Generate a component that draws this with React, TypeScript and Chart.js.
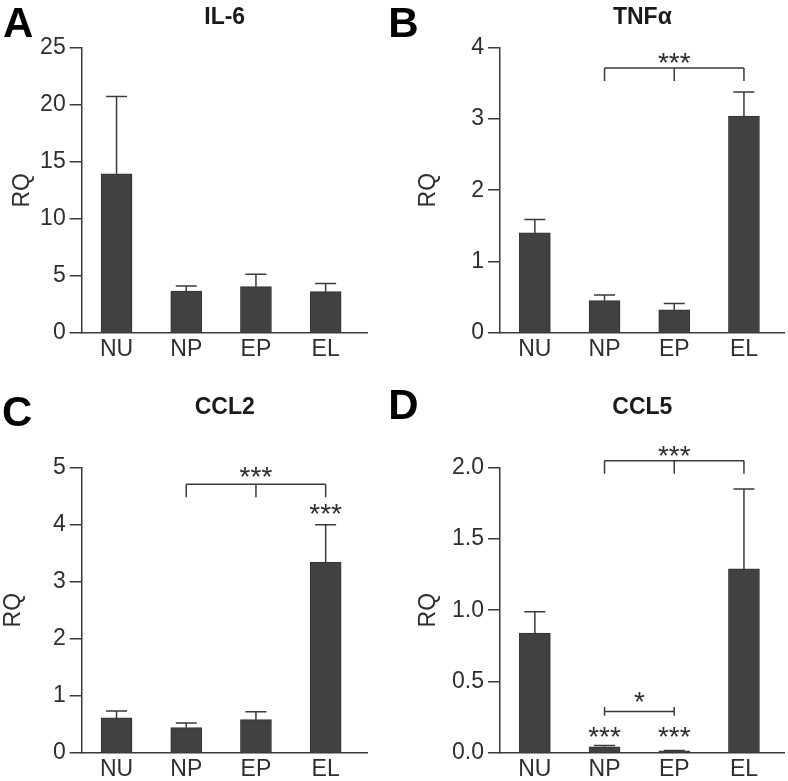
import React, { useEffect, useRef } from "react";
import { Chart, registerables } from "chart.js";

Chart.register(...registerables);

// ---------- data ----------
const CATEGORIES = ["NU", "NP", "EP", "EL"];

const IL6_MEANS = [13.95, 3.68, 4.06, 3.62];
const IL6_ERR_TOPS = [20.73, 4.12, 5.15, 4.33];
const IL6_TICKS = [0, 5, 10, 15, 20, 25];
const IL6_TICK_LABELS = ["0", "5", "10", "15", "20", "25"];

const TNF_MEANS = [1.4, 0.45, 0.32, 3.04];
const TNF_ERR_TOPS = [1.59, 0.53, 0.41, 3.38];
const TNF_TICKS = [0, 1, 2, 3, 4];
const TNF_TICK_LABELS = ["0", "1", "2", "3", "4"];

const CCL2_MEANS = [0.61, 0.44, 0.58, 3.34];
const CCL2_ERR_TOPS = [0.73, 0.52, 0.72, 4.0];
const CCL2_TICKS = [0, 1, 2, 3, 4, 5];
const CCL2_TICK_LABELS = ["0", "1", "2", "3", "4", "5"];

const CCL5_MEANS = [0.84, 0.042, 0.014, 1.29];
const CCL5_ERR_TOPS = [0.99, 0.05, 0.016, 1.85];
const CCL5_TICKS = [0, 0.5, 1, 1.5, 2];
const CCL5_TICK_LABELS = ["0.0", "0.5", "1.0", "1.5", "2.0"];

// significance brackets (category indices, RQ level of bar, label, label level)
const TNF_BRACKETS = [{ from: 1, to: 3, mid: 2, level: 3.715, label: "***", labelLevel: 3.86, kind: "group" }];
const CCL2_BRACKETS = [{ from: 1, to: 3, mid: 2, level: 4.709, label: "***", labelLevel: 4.92, kind: "group" }];
const CCL5_BRACKETS = [
  { from: 1, to: 3, mid: 2, level: 2.049, label: "***", labelLevel: 2.117, kind: "group" },
  { from: 1, to: 2, mid: -1, level: 0.29, label: "*", labelLevel: 0.393, kind: "pair" },
];
const CCL2_STARS = [{ index: 3, level: 4.27, label: "***" }];
const CCL5_STARS = [
  { index: 1, level: 0.147, label: "***" },
  { index: 2, level: 0.147, label: "***" },
];

const PANELS = [
  { letter: "A", title: "IL-6", means: IL6_MEANS, errTops: IL6_ERR_TOPS, ticks: IL6_TICKS, tickLabels: IL6_TICK_LABELS, brackets: [], stars: [] },
  { letter: "B", title: "TNFα", means: TNF_MEANS, errTops: TNF_ERR_TOPS, ticks: TNF_TICKS, tickLabels: TNF_TICK_LABELS, brackets: TNF_BRACKETS, stars: [] },
  { letter: "C", title: "CCL2", means: CCL2_MEANS, errTops: CCL2_ERR_TOPS, ticks: CCL2_TICKS, tickLabels: CCL2_TICK_LABELS, brackets: CCL2_BRACKETS, stars: CCL2_STARS },
  { letter: "D", title: "CCL5", means: CCL5_MEANS, errTops: CCL5_ERR_TOPS, ticks: CCL5_TICKS, tickLabels: CCL5_TICK_LABELS, brackets: CCL5_BRACKETS, stars: CCL5_STARS },
];

// ---------- layout & style (page coordinates) ----------
const LAYOUTS = [
  { canvas: { x: 0, y: 0, w: 388, h: 390 }, area: { l: 81.7, t: 47.7, r: 367.7, b: 333 }, rqX: 22.5, letterX: 3, letterBase: 37, titleBase: 24 },
  { canvas: { x: 388, y: 0, w: 400, h: 390 }, area: { l: 500, t: 47.7, r: 784.7, b: 332.7 }, rqX: 429, letterX: 388.3, letterBase: 37, titleBase: 24 },
  { canvas: { x: 0, y: 390, w: 388, h: 391 }, area: { l: 81.7, t: 467.7, r: 367.7, b: 752.7 }, rqX: 13.3, letterX: 2, letterBase: 426.3, titleBase: 413.6 },
  { canvas: { x: 388, y: 390, w: 400, h: 391 }, area: { l: 500, t: 467.7, r: 784.7, b: 752.7 }, rqX: 429, letterX: 388.3, letterBase: 418.5, titleBase: 413.6 },
];

const FONT = "'Liberation Sans', Arial, Helvetica, sans-serif";
const TEXT = "#2e2e2e";
const AXIS = "#3a3a3a";
const BAR_FILL = "#414141";
const BAR_EDGE = "#333333";
const CAT_SPACING = 69.7;
const BAR_W = 31;
const CAP_W = 21;
const DROP = 13;
const PAIR_TICK = 4.3;
const TICK_FONT = 23;
const STAR_FONT = 28;
const LETTER_FONT = 42;
const TITLE_FONT = 23;

function drawStars(ctx: CanvasRenderingContext2D, text: string, cx: number, cy: number) {
  ctx.font = `${STAR_FONT}px ${FONT}`;
  ctx.textAlign = "center";
  ctx.textBaseline = "alphabetic";
  const m = ctx.measureText(text);
  const asc = m.actualBoundingBoxAscent;
  const desc = m.actualBoundingBoxDescent;
  const base = cy - (desc - asc) / 2;
  ctx.fillText(text, cx, base);
}

function makeOverlay(panel: any, layout: any) {
  return {
    id: "overlay" + panel.letter,
    afterDatasetsDraw(chart: any) {
      const ctx: CanvasRenderingContext2D = chart.ctx;
      const xs = chart.scales.x;
      const ys = chart.scales.y;
      ctx.save();
      ctx.strokeStyle = AXIS;
      ctx.lineWidth = 1.5;
      ctx.lineCap = "butt";
      // error bars
      panel.means.forEach((m: number, i: number) => {
        const x = xs.getPixelForValue(i);
        const y0 = ys.getPixelForValue(m);
        const y1 = ys.getPixelForValue(panel.errTops[i]);
        ctx.beginPath();
        ctx.moveTo(x, y0);
        ctx.lineTo(x, y1);
        ctx.moveTo(x - CAP_W / 2, y1);
        ctx.lineTo(x + CAP_W / 2, y1);
        ctx.stroke();
      });
      // brackets
      ctx.fillStyle = TEXT;
      panel.brackets.forEach((b: any) => {
        const xa = xs.getPixelForValue(b.from);
        const xb = xs.getPixelForValue(b.to);
        const y = ys.getPixelForValue(b.level);
        ctx.beginPath();
        ctx.moveTo(xa, y);
        ctx.lineTo(xb, y);
        if (b.kind === "group") {
          ctx.moveTo(xa, y);
          ctx.lineTo(xa, y + DROP);
          ctx.moveTo(xb, y);
          ctx.lineTo(xb, y + DROP);
          if (b.mid >= 0) {
            const xm = xs.getPixelForValue(b.mid);
            ctx.moveTo(xm, y);
            ctx.lineTo(xm, y + DROP);
          }
        } else {
          ctx.moveTo(xa, y - PAIR_TICK);
          ctx.lineTo(xa, y + PAIR_TICK);
          ctx.moveTo(xb, y - PAIR_TICK);
          ctx.lineTo(xb, y + PAIR_TICK);
        }
        ctx.stroke();
        const lx = b.mid >= 0 ? xs.getPixelForValue(b.mid) : (xa + xb) / 2;
        drawStars(ctx, b.label, lx, ys.getPixelForValue(b.labelLevel));
      });
      panel.stars.forEach((s: any) => {
        drawStars(ctx, s.label, xs.getPixelForValue(s.index), ys.getPixelForValue(s.level));
      });
      ctx.restore();
    },
    afterDraw(chart: any) {
      const ctx: CanvasRenderingContext2D = chart.ctx;
      const c = layout.canvas;
      const a = layout.area;
      ctx.save();
      ctx.fillStyle = "#000";
      ctx.textBaseline = "alphabetic";
      ctx.textAlign = "left";
      ctx.font = `bold ${LETTER_FONT}px ${FONT}`;
      ctx.fillText(panel.letter, layout.letterX - c.x, layout.letterBase - c.y);
      ctx.fillStyle = "#1a1a1a";
      ctx.textAlign = "center";
      ctx.font = `bold ${TITLE_FONT}px ${FONT}`;
      ctx.fillText(panel.title, (a.l + a.r) / 2 - c.x, layout.titleBase - c.y);
      ctx.restore();
    },
  };
}

function Panel({ panel, layout }: { panel: any; layout: any }) {
  const ref = useRef<HTMLCanvasElement>(null);
  const c = layout.canvas;
  useEffect(() => {
    const a = layout.area;
    const yMax = panel.ticks[panel.ticks.length - 1];
    const chart = new Chart(ref.current as HTMLCanvasElement, {
      type: "bar",
      data: {
        datasets: [
          {
            data: panel.means.map((v: number, i: number) => ({ x: i, y: v })),
            backgroundColor: BAR_FILL,
            borderColor: BAR_EDGE,
            borderWidth: 1,
            barThickness: BAR_W,
          },
        ],
      },
      options: {
        responsive: false,
        animation: false,
        devicePixelRatio: 1,
        layout: { padding: { left: 0, top: a.t - c.y, right: c.x + c.w - a.r, bottom: 0 } },
        plugins: { legend: { display: false }, tooltip: { enabled: false }, title: { display: false } },
        scales: {
          x: {
            type: "linear",
            min: -0.5,
            max: -0.5 + (a.r - a.l) / CAT_SPACING,
            offset: false,
            bounds: "data",
            grid: { display: false, drawTicks: false },
            border: { display: true, color: AXIS, width: 1.5 },
            afterBuildTicks: (s: any) => {
              s.ticks = CATEGORIES.map((_, i) => ({ value: i }));
            },
            afterFit: (s: any) => {
              s.height = c.y + c.h - a.b;
            },
            ticks: {
              autoSkip: false,
              maxRotation: 0,
              minRotation: 0,
              padding: 3,
              color: TEXT,
              font: { family: FONT, size: TICK_FONT },
              callback: (_v: any, i: number) => CATEGORIES[i],
            },
          },
          y: {
            type: "linear",
            min: 0,
            max: yMax,
            grid: { display: true, drawOnChartArea: false, drawTicks: true, tickLength: 12, color: AXIS, lineWidth: 1.5 },
            border: { display: true, color: AXIS, width: 1.5 },
            afterBuildTicks: (s: any) => {
              s.ticks = panel.ticks.map((v: number) => ({ value: v }));
            },
            afterFit: (s: any) => {
              s.width = a.l - c.x;
            },
            ticks: {
              padding: 4,
              color: TEXT,
              font: { family: FONT, size: TICK_FONT },
              callback: (_v: any, i: number) => panel.tickLabels[i],
            },
            title: {
              display: true,
              text: "RQ",
              color: TEXT,
              font: { family: FONT, size: TICK_FONT, lineHeight: 1 },
              padding: { top: layout.rqX - c.x - TICK_FONT / 2, bottom: 0 },
            },
          },
        },
      } as any,
      plugins: [makeOverlay(panel, layout)],
    });
    return () => chart.destroy();
  }, []);
  return (
    <canvas
      ref={ref}
      width={c.w}
      height={c.h}
      style={{ position: "absolute", left: c.x, top: c.y, width: c.w, height: c.h }}
    />
  );
}

export default function App() {
  return (
    <div style={{ position: "absolute", left: 0, top: 0, width: 788, height: 781, background: "#fff", overflow: "hidden" }}>
      {PANELS.map((p, i) => (
        <Panel key={p.letter} panel={p} layout={LAYOUTS[i]} />
      ))}
    </div>
  );
}
